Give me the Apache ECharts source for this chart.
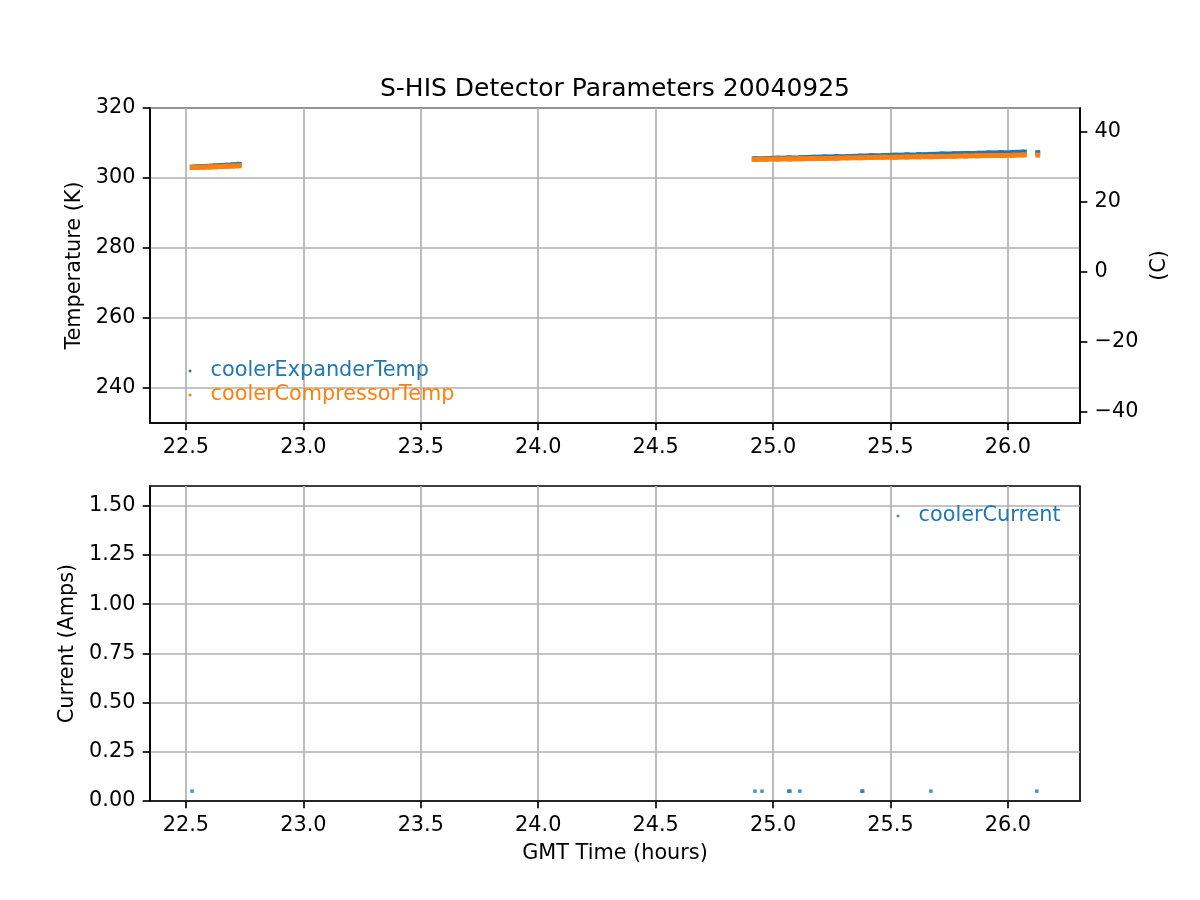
<!DOCTYPE html>
<html>
<head>
<meta charset="utf-8">
<script src="https://cdn.jsdelivr.net/npm/echarts@6/dist/echarts.min.js"></script>
<style>html,body{margin:0;padding:0;background:#fff}#c{width:1200px;height:900px}</style>
</head>
<body>
<div id="c"></div>
<script>
// ---- data ----
var titleText = 'S-HIS Detector Parameters 20040925';
var xTicks = [22.5, 23.0, 23.5, 24.0, 24.5, 25.0, 25.5, 26.0];
var tempTicksK = [240, 260, 280, 300, 320];
var tempTicksC = [-40, -20, 0, 20, 40];
var currentTicks = [0, 0.25, 0.5, 0.75, 1.0, 1.25, 1.5];

var timeSeg1 = [22.527, 22.55, 22.575, 22.60, 22.625, 22.65, 22.675, 22.70, 22.727];
var expanderSeg1 = [303.1, 303.2, 303.3, 303.35, 303.45, 303.55, 303.65, 303.75, 303.9];
var compressorSeg1 = [303.0, 303.05, 303.1, 303.15, 303.2, 303.3, 303.35, 303.4, 303.5];

var timeSeg2 = [24.92, 24.97, 25.02, 25.07, 25.12, 25.17, 25.22, 25.27, 25.32, 25.37, 25.42, 25.47,
                25.52, 25.57, 25.62, 25.67, 25.72, 25.77, 25.82, 25.87, 25.92, 25.97, 26.02, 26.07];
var expanderSeg2 = [305.5, 305.55, 305.65, 305.75, 305.8, 305.9, 306.0, 306.1, 306.15, 306.25, 306.35, 306.4,
                    306.5, 306.6, 306.65, 306.75, 306.85, 306.9, 307.0, 307.05, 307.15, 307.25, 307.3, 307.4];
var compressorSeg2 = [305.3, 305.35, 305.4, 305.45, 305.5, 305.55, 305.6, 305.65, 305.75, 305.8, 305.85, 305.9,
                      305.95, 306.0, 306.05, 306.1, 306.15, 306.2, 306.3, 306.35, 306.4, 306.45, 306.5, 306.6];
var timeSeg3 = [26.127];
var expanderSeg3 = [307.25];
var compressorSeg3 = [306.55];

var currentTime = [22.526, 24.923, 24.953, 25.067, 25.072, 25.114, 25.378, 25.382, 25.672, 26.123];
var currentVal = [0.05, 0.05, 0.05, 0.05, 0.05, 0.05, 0.05, 0.05, 0.05, 0.05];

// ---- build ----
var BLUE = '#1f77b4', ORANGE = '#ff7f0e';
var FS = 20.8, LW = 1.67, TL = 7.3;
function zip(a, b) { return a.map(function (v, i) { return [v, b[i]]; }); }
function minus(v) { return v < 0 ? '\u2212' + Math.abs(v) : String(v); }

var font = 'DejaVu Sans';
function xAxisDef(gi, withName) {
  return {
    type: 'value', gridIndex: gi, min: 22.347, max: 26.307,
    name: withName ? 'GMT Time (hours)' : '', nameLocation: 'middle', nameGap: 42,
    nameTextStyle: {fontFamily: font, fontSize: FS, color: '#000'},
    axisLine: {show: true, onZero: false, lineStyle: {color: '#000', width: LW}},
    axisTick: {show: true, length: TL, customValues: xTicks, lineStyle: {color: '#000', width: LW}},
    axisLabel: {customValues: xTicks, margin: 2 * TL, fontFamily: font, fontSize: FS, color: '#000',
      formatter: function (v) { return v.toFixed(1); }},
    splitLine: {show: true, customValues: xTicks, lineStyle: {color: '#b0b0b0', width: LW}}
  };
}

var option = {
  animation: false,
  backgroundColor: '#fff',
  title: {text: titleText, left: 615, textAlign: 'center', top: 77, padding: 0,
    textStyle: {fontFamily: font, fontSize: 25, fontWeight: 'normal', color: '#000'}},
  grid: [
    {left: 150, top: 108, width: 930, height: 315, show: true, borderColor: '#000', borderWidth: LW, backgroundColor: 'transparent'},
    {left: 150, top: 486, width: 930, height: 315, show: true, borderColor: '#000', borderWidth: LW, backgroundColor: 'transparent'}
  ],
  xAxis: [xAxisDef(0, false), xAxisDef(1, true)],
  yAxis: [
    {type: 'value', gridIndex: 0, min: 230, max: 320, position: 'left',
      name: 'Temperature (K)', nameLocation: 'middle', nameGap: 61, nameRotate: 90,
      nameTextStyle: {fontFamily: font, fontSize: FS, color: '#000'},
      axisLine: {show: true, lineStyle: {color: '#000', width: LW}},
      axisTick: {show: true, length: TL, customValues: tempTicksK, lineStyle: {color: '#000', width: LW}},
      axisLabel: {customValues: tempTicksK, margin: 2 * TL, fontFamily: font, fontSize: FS, color: '#000'},
      splitLine: {show: true, customValues: tempTicksK, lineStyle: {color: '#b0b0b0', width: LW}}},
    {type: 'value', gridIndex: 0, min: 230 - 273.15, max: 320 - 273.15, position: 'right',
      name: '(C)', nameLocation: 'middle', nameGap: 65, nameRotate: 90,
      nameTextStyle: {fontFamily: font, fontSize: FS, color: '#000'},
      axisLine: {show: true, lineStyle: {color: '#000', width: LW}},
      axisTick: {show: true, length: TL, customValues: tempTicksC, lineStyle: {color: '#000', width: LW}},
      axisLabel: {customValues: tempTicksC, margin: 2 * TL, fontFamily: font, fontSize: FS, color: '#000', formatter: minus},
      splitLine: {show: false}},
    {type: 'value', gridIndex: 1, min: 0, max: 1.6, position: 'left',
      name: 'Current (Amps)', nameLocation: 'middle', nameGap: 68, nameRotate: 90,
      nameTextStyle: {fontFamily: font, fontSize: FS, color: '#000'},
      axisLine: {show: true, lineStyle: {color: '#000', width: LW}},
      axisTick: {show: true, length: TL, customValues: currentTicks, lineStyle: {color: '#000', width: LW}},
      axisLabel: {customValues: currentTicks, margin: 2 * TL, fontFamily: font, fontSize: FS, color: '#000',
        formatter: function (v) { return v.toFixed(2); }},
      splitLine: {show: true, customValues: currentTicks, lineStyle: {color: '#b0b0b0', width: LW}}}
  ],
  legend: [
    {orient: 'vertical', left: 188.5, top: 359, padding: 0, itemGap: 0, itemWidth: 3, itemHeight: 3, icon: 'circle',
      textStyle: {fontFamily: font, fontSize: FS, lineHeight: 24, padding: [0, 0, 0, 14]},
      data: [{name: 'coolerExpanderTemp', textStyle: {color: BLUE}},
             {name: 'coolerCompressorTemp', textStyle: {color: ORANGE}}]},
    {orient: 'vertical', left: 896.5, top: 504, padding: 0, itemGap: 0, itemWidth: 3, itemHeight: 3, icon: 'circle',
      textStyle: {fontFamily: font, fontSize: FS, lineHeight: 24, padding: [0, 0, 0, 14]},
      data: [{name: 'coolerCurrent', textStyle: {color: BLUE}}]}
  ],
  series: []
};

function tempSeries(name, color, t, v, z) {
  return {name: name, type: 'line', xAxisIndex: 0, yAxisIndex: 0, data: zip(t, v), z: z,
    showSymbol: true, symbol: 'rect', symbolSize: 5, color: color,
    itemStyle: {color: color}, lineStyle: {color: color, width: 5}, emphasis: {disabled: true}};
}
option.series.push(tempSeries('coolerExpanderTemp', BLUE, timeSeg1, expanderSeg1, 2));
option.series.push(tempSeries('coolerExpanderTemp', BLUE, timeSeg2, expanderSeg2, 2));
option.series.push(tempSeries('coolerExpanderTemp', BLUE, timeSeg3, expanderSeg3, 2));
option.series.push(tempSeries('coolerCompressorTemp', ORANGE, timeSeg1, compressorSeg1, 3));
option.series.push(tempSeries('coolerCompressorTemp', ORANGE, timeSeg2, compressorSeg2, 3));
option.series.push(tempSeries('coolerCompressorTemp', ORANGE, timeSeg3, compressorSeg3, 3));
option.series.push({name: 'coolerCurrent', type: 'scatter', xAxisIndex: 1, yAxisIndex: 2,
  data: zip(currentTime, currentVal), symbol: 'rect', symbolSize: 3.5, color: BLUE,
  itemStyle: {color: BLUE}, emphasis: {disabled: true}});

var chart = echarts.init(document.getElementById('c'), null, {renderer: 'canvas'});
chart.setOption(option);
</script>
</body>
</html>
